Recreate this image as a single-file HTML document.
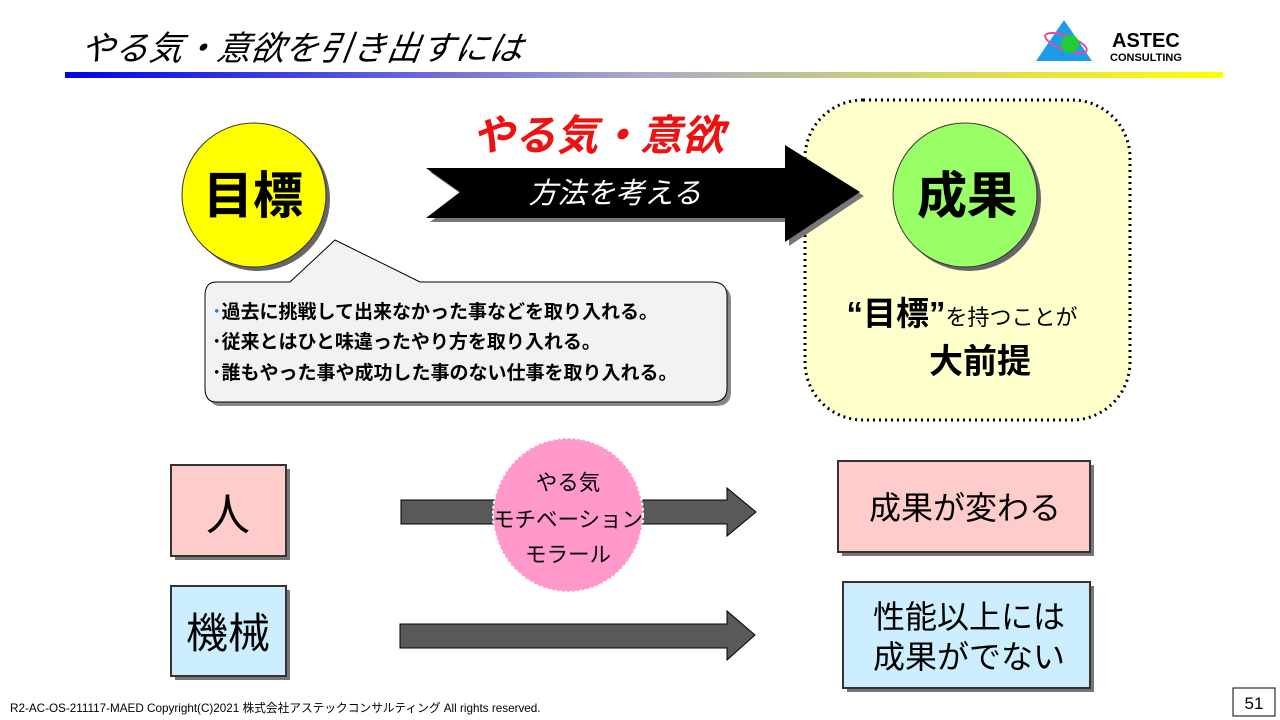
<!DOCTYPE html>
<html><head><meta charset="utf-8"><style>
body{margin:0;width:1280px;height:720px;background:#fff;overflow:hidden;font-family:"Liberation Sans","Noto Sans CJK JP",sans-serif}
svg{display:block}
</style></head><body>
<svg width="1280" height="720" viewBox="0 0 1280 720" xmlns="http://www.w3.org/2000/svg" font-family="Liberation Sans, Noto Sans CJK JP, sans-serif">
<defs>
<linearGradient id="bar" x1="0" x2="1"><stop offset="0" stop-color="#0000ee"/><stop offset="0.5" stop-color="#aaaacc"/><stop offset="1" stop-color="#ffff00"/></linearGradient>
</defs>
<text x="80" y="60" font-size="34" font-style="italic" transform="skewX(-8) translate(8,0)">やる気・意欲を引き出すには</text>
<rect x="65" y="72" width="1158" height="6" fill="url(#bar)"/>
<polygon points="1064,20 1036,61 1092,61" fill="#1e9be8"/>
<ellipse cx="1066" cy="43" rx="22" ry="7" fill="none" stroke="#e04aa0" stroke-width="2" transform="rotate(20 1066 43)"/>
<circle cx="1070" cy="44" r="9" fill="#22cc33"/>
<text x="1112" y="47" font-size="20" font-weight="bold">ASTEC</text>
<text x="1110" y="61" font-size="11" font-weight="bold">CONSULTING</text>

<rect x="805" y="100" width="325" height="320" rx="58" fill="#ffffcc" stroke="#000" stroke-width="3" stroke-dasharray="2,4"/>

<circle cx="258" cy="199" r="72" fill="#666"/>
<circle cx="254" cy="195" r="72" fill="#ffff00" stroke="#333" stroke-width="1"/>
<text x="253" y="213" font-size="50" text-anchor="middle" font-weight="bold" stroke="#000" stroke-width="0.3">目標</text>

<circle cx="969" cy="199" r="72" fill="#666"/>
<circle cx="965" cy="195" r="72" fill="#99ff66" stroke="#333" stroke-width="1"/>
<text x="967" y="213" font-size="50" text-anchor="middle" font-weight="bold" stroke="#000" stroke-width="0.3">成果</text>

<polygon points="430,172 789,172 789,149 864,196 789,246 789,222 430,222 464,196" fill="#777"/>
<polygon points="426,168 785,168 785,145 860,192 785,242 785,218 426,218 460,192" fill="#000"/>
<text x="598" y="150" font-size="42" font-weight="bold" font-style="italic" fill="#ee1111" text-anchor="middle">やる気・意欲</text>
<text x="615" y="203" font-size="29" font-style="italic" fill="#fff" text-anchor="middle">方法を考える</text>

<path d="M220,286 H294 L340,244 L424,286 H716 Q731,286 731,300 V392 Q731,406 716,406 H220 Q209,406 209,392 V300 Q209,286 220,286Z" fill="#888"/>
<path d="M216,282 H290 L335,240 L420,282 H712 Q727,282 727,296 V388 Q727,402 712,402 H216 Q205,402 205,388 V296 Q205,282 216,282Z" fill="#f2f2f2" stroke="#000" stroke-width="1"/>
<g font-size="19" font-weight="bold">
<text x="212" y="318"><tspan fill="#1e88e5">･</tspan>過去に挑戦して出来なかった事などを取り入れる。</text>
<text x="212" y="348">･従来とはひと味違ったやり方を取り入れる。</text>
<text x="212" y="379">･誰もやった事や成功した事のない仕事を取り入れる。</text>
</g>
<text x="962" y="325" text-anchor="middle"><tspan font-size="33" font-weight="bold">“目標”</tspan><tspan font-size="22">を持つことが</tspan></text>
<text x="980" y="373" font-size="34" font-weight="bold" text-anchor="middle">大前提</text>

<rect x="175" y="469" width="115" height="91" fill="#777"/>
<rect x="171" y="465" width="115" height="91" fill="#ffcccc" stroke="#333" stroke-width="2"/>
<text x="228" y="530" font-size="44" text-anchor="middle">人</text>
<rect x="175" y="590" width="115" height="90" fill="#777"/>
<rect x="171" y="586" width="115" height="90" fill="#cceeff" stroke="#333" stroke-width="2"/>
<text x="228" y="648" font-size="42" text-anchor="middle">機械</text>

<rect x="842" y="465" width="252" height="91" fill="#777"/>
<rect x="838" y="461" width="252" height="91" fill="#ffcccc" stroke="#333" stroke-width="2"/>
<text x="965" y="519" font-size="32" text-anchor="middle">成果が変わる</text>
<rect x="847" y="586" width="247" height="106" fill="#777"/>
<rect x="843" y="582" width="247" height="106" fill="#cceeff" stroke="#333" stroke-width="2"/>
<text x="969" y="628" font-size="32" text-anchor="middle">性能以上には</text>
<text x="969" y="668" font-size="32" text-anchor="middle">成果がでない</text>

<polygon points="401,500 727,500 727,488 756,512 727,536 727,524 401,524" fill="#595959" stroke="#000" stroke-width="1"/>
<polygon points="400,624 727,624 727,611 755,635 727,660 727,648 400,648" fill="#595959" stroke="#000" stroke-width="1"/>

<ellipse cx="568" cy="515" rx="75" ry="77" fill="#ff99cc" stroke="#fff" stroke-width="2" stroke-dasharray="3,2"/>
<g font-size="21.5" text-anchor="middle">
<text x="568" y="490">やる気</text>
<text x="568" y="527">モチベーション</text>
<text x="568" y="562">モラール</text>
</g>

<text x="10" y="712" font-size="11.7">R2-AC-OS-211117-MAED Copyright(C)2021 株式会社アステックコンサルティング All rights reserved.</text>
<rect x="1233" y="688" width="42" height="28" fill="#fff" stroke="#000" stroke-width="1"/>
<text x="1254" y="709" font-size="17" text-anchor="middle">51</text>
</svg>
</body></html>
